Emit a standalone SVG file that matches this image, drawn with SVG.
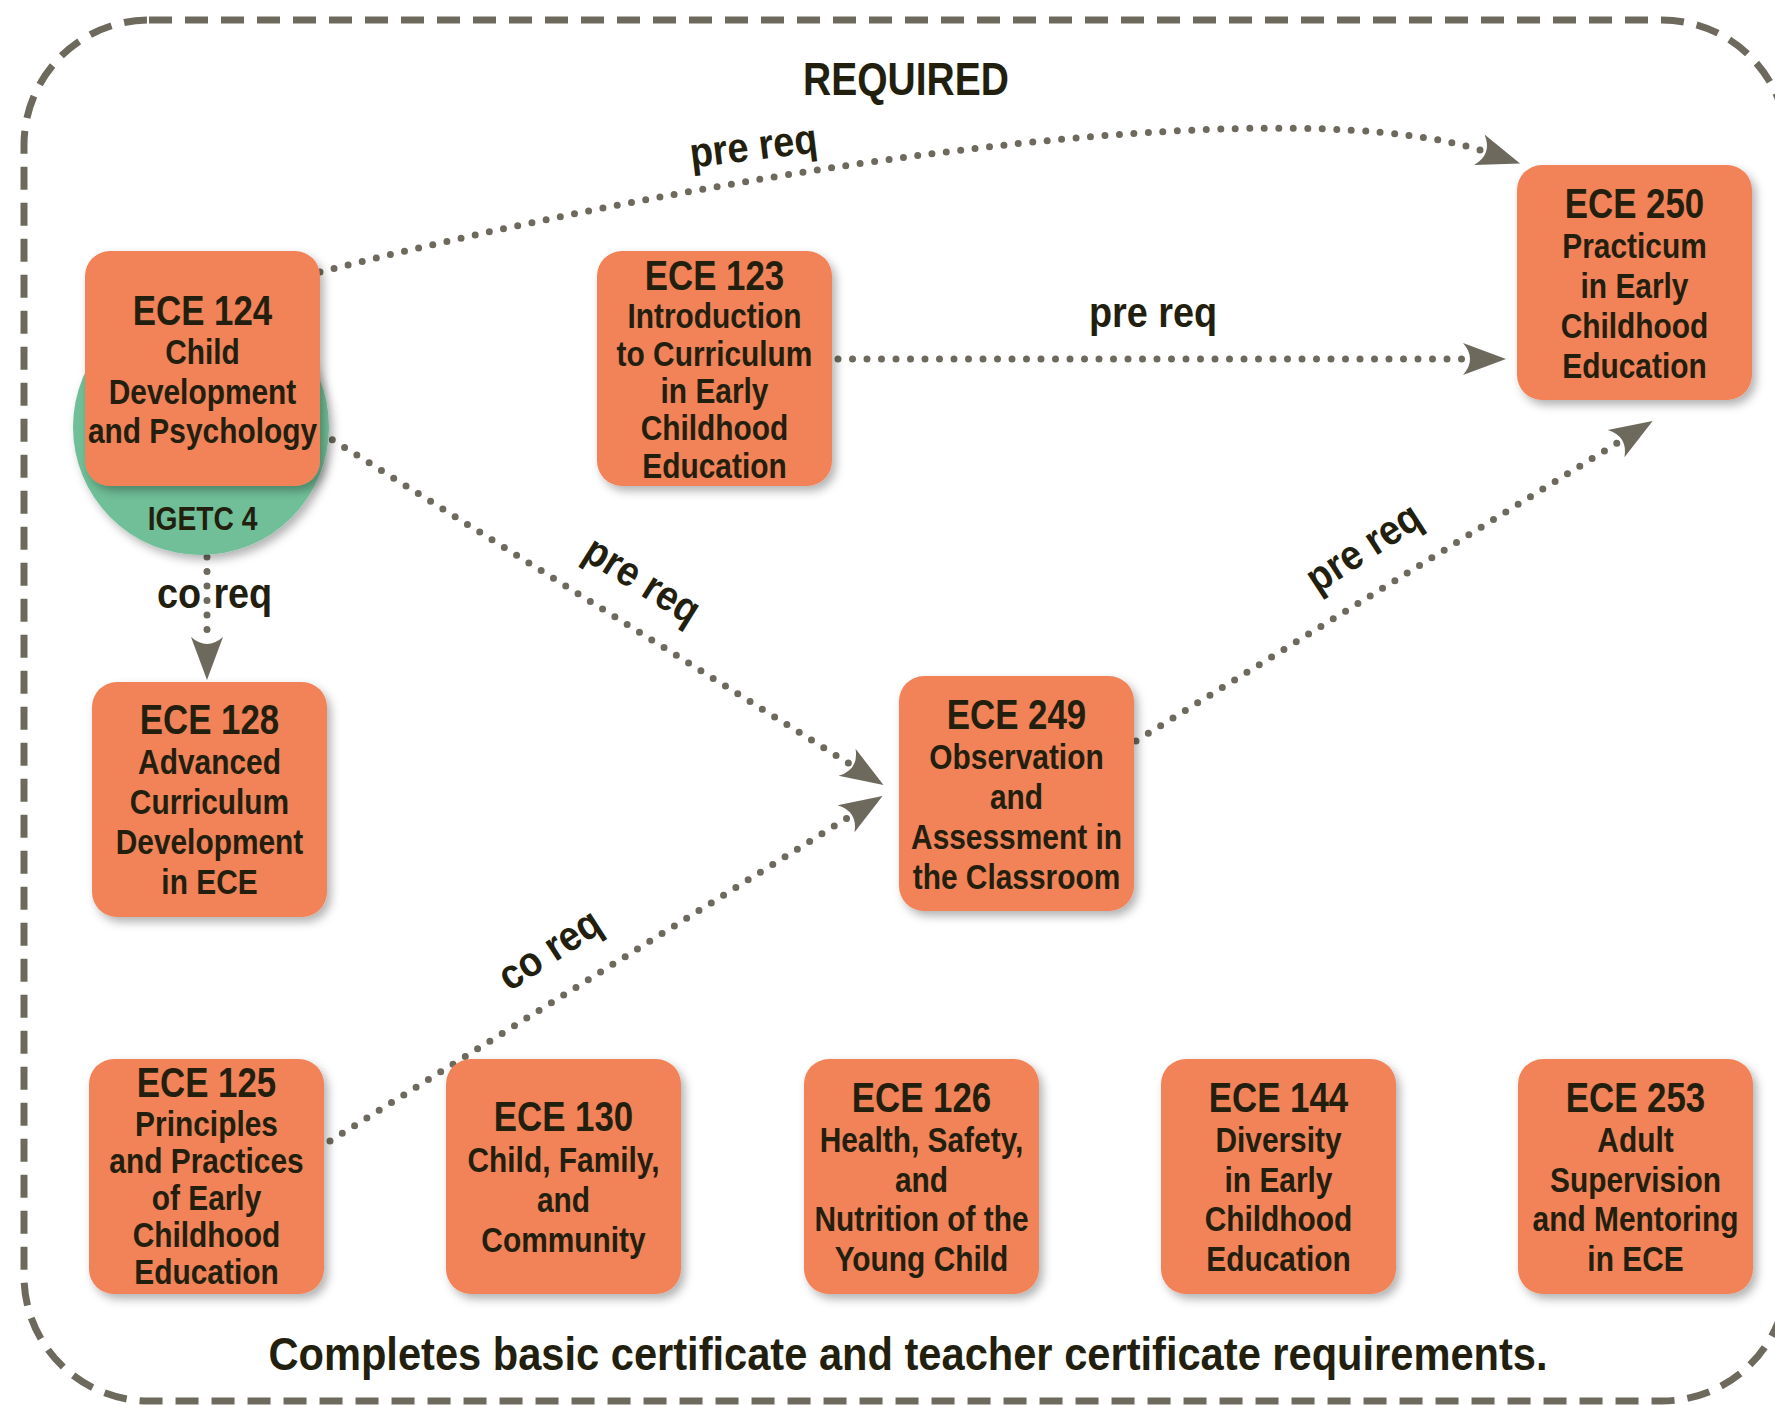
<svg xmlns="http://www.w3.org/2000/svg" width="1775" height="1405" viewBox="0 0 1775 1405">
<style>
text{font-family:'Liberation Sans',Arial,sans-serif;font-weight:bold;fill:#231f0f;text-anchor:middle}
.box{fill:#f28258;filter:url(#sh)}
.t{font-size:42px}
.b{font-size:36px}
.lbl{font-size:42px}
.dot{fill:none;stroke:#6d6a5d;stroke-width:7;stroke-linecap:round;stroke-dasharray:0 14.5}
.arrow{marker-end:url(#arr)}
</style>
<defs>
<filter id="sh" x="-20%" y="-20%" width="150%" height="150%">
<feDropShadow dx="4" dy="5" stdDeviation="5" flood-color="#000" flood-opacity="0.3"/>
</filter>
<marker id="arr" markerUnits="userSpaceOnUse" viewBox="-10 -20 50 40" markerWidth="50" markerHeight="40" refX="0" refY="0" orient="auto" overflow="visible">
<path d="M36,0 L-7,-16 Q7,0 -7,16 Z" fill="#6d6a5d"/>
</marker>
</defs>
<rect width="1775" height="1405" fill="#fff"/>
<rect id="border" x="24" y="20" width="1763" height="1381" rx="125" ry="125" fill="none" stroke="#6d6a5d" stroke-width="7" stroke-dasharray="23 13"/>
<text transform="translate(906,95) scale(0.83,1)" style="font-size:47px">REQUIRED</text>

<g id="connectors">
<path class="dot arrow" d="M320,272 C800,150 1310,92 1486,152"/>
<path class="dot arrow" d="M838,359 L1470,359"/>
<path class="dot arrow" d="M320,432 L853,766"/>
<path class="dot arrow" d="M330,1141 L852,815"/>
<path class="dot arrow" d="M1136,741 L1622,440"/>
<path class="dot arrow" d="M207,557 L207,644"/>
<text class="lbl" transform="translate(755,160) rotate(-7) scale(0.9,1)">pre req</text>
<text class="lbl" transform="translate(1153,327) scale(0.9,1)">pre req</text>
<text class="lbl" transform="translate(635,592) rotate(32) scale(0.9,1)">pre req</text>
<text class="lbl" transform="translate(1371,559) rotate(-33) scale(0.9,1)">pre req</text>
<text class="lbl" transform="translate(557,961) rotate(-33) scale(0.9,1)">co req</text>
<text class="lbl" transform="translate(157,608) scale(0.9,1)" style="text-anchor:start;word-spacing:2px">co req</text>
</g>

<g id="ece124">
<circle cx="201" cy="427" r="128" fill="#6fbf98" filter="url(#sh)"/>
<rect class="box" x="85" y="251" width="235" height="235" rx="25"/>
<g transform="translate(202.5,0) scale(0.83,1)">
<text class="t" y="325">ECE 124</text>
<text class="b" y="364">Child</text>
<text class="b" y="404">Development</text>
<text class="b" y="443">and Psychology</text>
<text y="530" style="font-size:34px">IGETC 4</text>
</g>
</g>

<g id="ece123">
<rect class="box" x="597" y="251" width="235" height="235" rx="25"/>
<g transform="translate(714.5,0) scale(0.83,1)">
<text class="t" y="290">ECE 123</text>
<text class="b" y="328">Introduction</text>
<text class="b" y="366">to Curriculum</text>
<text class="b" y="403">in Early</text>
<text class="b" y="440">Childhood</text>
<text class="b" y="478">Education</text>
</g>
</g>

<g id="ece250">
<rect class="box" x="1517" y="165" width="235" height="235" rx="25"/>
<g transform="translate(1634.5,0) scale(0.83,1)">
<text class="t" y="218">ECE 250</text>
<text class="b" y="258">Practicum</text>
<text class="b" y="298">in Early</text>
<text class="b" y="338">Childhood</text>
<text class="b" y="378">Education</text>
</g>
</g>

<g id="ece128">
<rect class="box" x="92" y="682" width="235" height="235" rx="25"/>
<g transform="translate(209.5,0) scale(0.83,1)">
<text class="t" y="734">ECE 128</text>
<text class="b" y="774">Advanced</text>
<text class="b" y="814">Curriculum</text>
<text class="b" y="854">Development</text>
<text class="b" y="894">in ECE</text>
</g>
</g>

<g id="ece249">
<rect class="box" x="899" y="676" width="235" height="235" rx="25"/>
<g transform="translate(1016.5,0) scale(0.83,1)">
<text class="t" y="729">ECE 249</text>
<text class="b" y="769">Observation</text>
<text class="b" y="809">and</text>
<text class="b" y="849">Assessment in</text>
<text class="b" y="889">the Classroom</text>
</g>
</g>

<g id="ece125">
<rect class="box" x="89" y="1059" width="235" height="235" rx="25"/>
<g transform="translate(206.5,0) scale(0.83,1)">
<text class="t" y="1097">ECE 125</text>
<text class="b" y="1136">Principles</text>
<text class="b" y="1173">and Practices</text>
<text class="b" y="1210">of Early</text>
<text class="b" y="1247">Childhood</text>
<text class="b" y="1284">Education</text>
</g>
</g>

<g id="ece130">
<rect class="box" x="446" y="1059" width="235" height="235" rx="25"/>
<g transform="translate(563.5,0) scale(0.83,1)">
<text class="t" y="1131">ECE 130</text>
<text class="b" y="1172">Child, Family,</text>
<text class="b" y="1212">and</text>
<text class="b" y="1252">Community</text>
</g>
</g>

<g id="ece126">
<rect class="box" x="804" y="1059" width="235" height="235" rx="25"/>
<g transform="translate(921.5,0) scale(0.83,1)">
<text class="t" y="1112">ECE 126</text>
<text class="b" y="1152">Health, Safety,</text>
<text class="b" y="1192">and</text>
<text class="b" y="1231">Nutrition of the</text>
<text class="b" y="1271">Young Child</text>
</g>
</g>

<g id="ece144">
<rect class="box" x="1161" y="1059" width="235" height="235" rx="25"/>
<g transform="translate(1278.5,0) scale(0.83,1)">
<text class="t" y="1112">ECE 144</text>
<text class="b" y="1152">Diversity</text>
<text class="b" y="1192">in Early</text>
<text class="b" y="1231">Childhood</text>
<text class="b" y="1271">Education</text>
</g>
</g>

<g id="ece253">
<rect class="box" x="1518" y="1059" width="235" height="235" rx="25"/>
<g transform="translate(1635.5,0) scale(0.83,1)">
<text class="t" y="1112">ECE 253</text>
<text class="b" y="1152">Adult</text>
<text class="b" y="1192">Supervision</text>
<text class="b" y="1231">and Mentoring</text>
<text class="b" y="1271">in ECE</text>
</g>
</g>

<text transform="translate(908,1370) scale(0.905,1)" style="font-size:46px">Completes basic certificate and teacher certificate requirements.</text>
</svg>
